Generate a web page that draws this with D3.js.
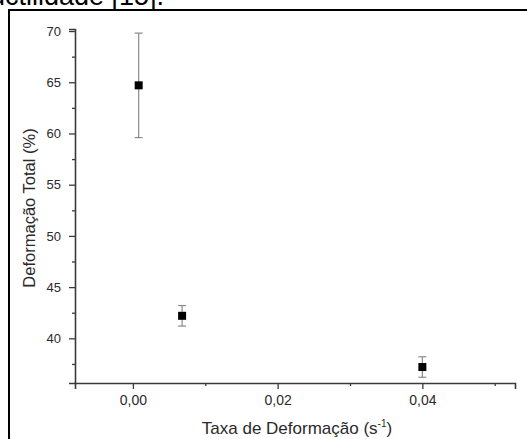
<!DOCTYPE html>
<html>
<head>
<meta charset="utf-8">
<script src="https://cdn.jsdelivr.net/npm/d3@7"></script>
<style>
  html, body { margin: 0; padding: 0; background: #fff; overflow: hidden; }
  svg { display: block; }
  text { font-family: Arial, "Liberation Sans", sans-serif; }
  .ytick text { font-size: 13px; }
  .xtick text { font-size: 14px; }
</style>
</head>
<body>
<div id="bodyVis"></div>
<script>
// data
var taxa = [0.0008, 0.0068, 0.040];          // taxa de deformacao (s^-1)
var deformacao = [64.7, 42.2, 37.2];         // deformacao total (%)
var erro = [5.1, 1.0, 1.0];                  // barra de erro (+/-)

var xMajor = [0.00, 0.02, 0.04];
var xMinor = [0.01, 0.03, 0.05];
var yMajor = [40, 45, 50, 55, 60, 65, 70];
var yMinor = [37.5, 42.5, 47.5, 52.5, 57.5, 62.5, 67.5];

var fmtX = function(d) { return d3.format(".2f")(d).replace(".", ","); };

var W = 527, H = 439;
var svg = d3.select("#bodyVis").append("svg")
  .attr("width", W)
  .attr("height", H);

// end of the paragraph above the figure (cut off at the top)
svg.append("text")
  .attr("x", 164)
  .attr("y", 4.5)
  .attr("text-anchor", "end")
  .attr("font-size", 27)
  .attr("fill", "#000")
  .text("ductilidade [15].");

// frame round the figure
svg.append("rect")
  .attr("x", 9)
  .attr("y", 10)
  .attr("width", 700)
  .attr("height", 700)
  .attr("fill", "none")
  .attr("stroke", "#000")
  .attr("stroke-width", 2);

// plot area (window.top is reserved, so use m.* names)
var m = { left: 75, right: 515, top: 29, bottom: 383 };

var x = d3.scaleLinear().domain([-0.008, 0.0528]).range([m.left, m.right]);
var y = d3.scaleLinear().domain([35.64, 70.2]).range([m.bottom, m.top]);

var axisColor = "#3a3a3a";
var textColor = "#2a2a2a";

// y axis
var yAxis = svg.append("g")
  .attr("class", "ytick")
  .attr("transform", "translate(" + m.left + ",0)")
  .call(d3.axisLeft(y).tickValues(yMajor).tickSize(6).tickPadding(8).tickFormat(d3.format("d")));
var yMin = svg.append("g")
  .attr("transform", "translate(" + m.left + ",0)")
  .call(d3.axisLeft(y).tickValues(yMinor).tickSize(3).tickFormat(""));

// x axis
var xAxis = svg.append("g")
  .attr("class", "xtick")
  .attr("transform", "translate(0," + m.bottom + ")")
  .call(d3.axisBottom(x).tickValues(xMajor).tickSize(6).tickPadding(6).tickFormat(fmtX));
var xMin = svg.append("g")
  .attr("transform", "translate(0," + m.bottom + ")")
  .call(d3.axisBottom(x).tickValues(xMinor).tickSize(3).tickFormat(""));

[yAxis, yMin, xAxis, xMin].forEach(function(g) {
  g.attr("font-family", null).attr("font-size", null);
  g.select(".domain").attr("stroke", axisColor).attr("stroke-width", 1.6);
  g.selectAll(".tick line").attr("stroke", axisColor).attr("stroke-width", 1.3);
  g.selectAll(".tick text").attr("fill", textColor);
});
yMin.select(".domain").remove();
xMin.select(".domain").remove();

// axis titles
svg.append("text")
  .attr("transform", "translate(35," + ((m.top + m.bottom) / 2 + 2) + ") rotate(-90)")
  .attr("text-anchor", "middle")
  .attr("font-size", 16.5)
  .attr("fill", textColor)
  .text("Deformação Total (%)");

var xt = svg.append("text")
  .attr("x", (m.left + m.right) / 2 + 2)
  .attr("y", 434)
  .attr("text-anchor", "middle")
  .attr("font-size", 17)
  .attr("fill", textColor);
xt.append("tspan").text("Taxa de Deformação (s");
xt.append("tspan").attr("font-size", 10).attr("dy", -7).text("-1");
xt.append("tspan").attr("dy", 7).text(")");

// error bars
var pts = taxa.map(function(t, i) {
  return { x: t, y: deformacao[i], e: erro[i] };
});

var eb = svg.selectAll("g.eb").data(pts).enter().append("g").attr("class", "eb");
var cap = 4;
eb.append("line")
  .attr("x1", function(d) { return x(d.x); })
  .attr("x2", function(d) { return x(d.x); })
  .attr("y1", function(d) { return y(d.y + d.e); })
  .attr("y2", function(d) { return y(d.y - d.e); });
eb.append("line")
  .attr("x1", function(d) { return x(d.x) - cap; })
  .attr("x2", function(d) { return x(d.x) + cap; })
  .attr("y1", function(d) { return y(d.y + d.e); })
  .attr("y2", function(d) { return y(d.y + d.e); });
eb.append("line")
  .attr("x1", function(d) { return x(d.x) - cap; })
  .attr("x2", function(d) { return x(d.x) + cap; })
  .attr("y1", function(d) { return y(d.y - d.e); })
  .attr("y2", function(d) { return y(d.y - d.e); });
eb.selectAll("line").attr("stroke", "#8a8a8a").attr("stroke-width", 1.2);

// markers
var s = 8;
svg.selectAll("rect.pt").data(pts).enter().append("rect")
  .attr("class", "pt")
  .attr("x", function(d) { return x(d.x) - s / 2; })
  .attr("y", function(d) { return y(d.y) - s / 2; })
  .attr("width", s)
  .attr("height", s)
  .attr("fill", "#000");
</script>
</body>
</html>
